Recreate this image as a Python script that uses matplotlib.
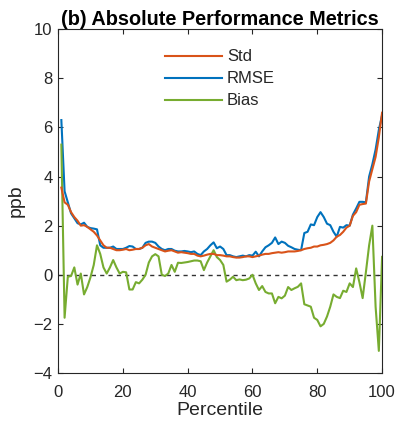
import matplotlib
matplotlib.use("Agg")
import matplotlib.pyplot as plt
import numpy as np

percentile = list(range(1, 101))

std_vals = [3.55, 2.95, 2.85, 2.55, 2.35, 2.2, 2.0, 2.02, 1.95, 1.85,
            1.75, 1.6, 1.4, 1.2, 1.1, 1.1, 1.05, 1.0, 1.0, 1.02,
            1.05, 1.0, 1.02, 1.05, 1.05, 1.1, 1.2, 1.25, 1.15, 1.1,
            1.05, 1.0, 0.95, 0.98, 1.0, 0.95, 0.9, 0.92, 0.9, 0.88,
            0.85, 0.85, 0.78, 0.75, 0.78, 0.82, 0.85, 0.85, 0.8, 0.8,
            0.78, 0.75, 0.75, 0.72, 0.7, 0.7, 0.72, 0.75, 0.75, 0.72,
            0.75, 0.78, 0.82, 0.85, 0.85, 0.88, 0.9, 0.92, 0.9, 0.92,
            0.95, 0.95, 0.95, 0.97, 1.0, 1.05, 1.08, 1.1, 1.15, 1.15,
            1.2, 1.22, 1.25, 1.3, 1.4, 1.55, 1.62, 1.75, 1.92, 2.0,
            2.4, 2.55, 2.85, 2.88, 2.9, 3.8, 4.3, 4.8, 5.6, 6.6]

rmse_vals = [6.3, 3.4, 2.95, 2.5, 2.3, 2.1, 2.05, 2.12, 1.95, 1.9,
             1.88, 1.85, 1.2, 1.1, 1.1, 1.1, 1.15, 1.05, 1.05, 1.05,
             1.1, 1.17, 1.15, 1.05, 1.05, 1.1, 1.3, 1.35, 1.35, 1.3,
             1.15, 1.05, 1.0, 1.05, 1.05, 0.98, 0.95, 0.95, 0.97, 0.95,
             0.92, 0.95, 0.85, 0.8, 0.95, 1.05, 1.2, 1.32, 1.08, 1.15,
             1.05, 0.8, 0.8, 0.75, 0.72, 0.75, 0.78, 0.75, 0.8, 0.78,
             0.94, 0.75, 0.95, 1.12, 1.2, 1.3, 1.52, 1.25, 1.35, 1.3,
             1.18, 1.12, 1.05, 1.02, 1.0, 1.7, 1.75, 2.05, 2.02, 2.35,
             2.55, 2.35, 2.08, 2.02, 1.75, 1.55, 1.95, 1.92, 2.02, 2.0,
             2.45, 2.7, 2.97, 2.97, 2.95, 4.0, 4.5, 5.1, 5.9, 6.5]

bias_vals = [5.3, -1.75, -0.08, -0.05, 0.3, -0.4, 0.05, -0.8, -0.5, -0.1,
             0.4, 1.2, 0.85, 0.3, 0.05, 0.3, 0.6, 0.3, 0.05, 0.12,
             0.1, -0.6, -0.6, -0.3, -0.35, -0.2, 0.0, 0.5, 0.75, 0.84,
             0.75, 0.0, -0.05, 0.05, 0.4, 0.12, 0.49, 0.48, 0.5, 0.52,
             0.55, 0.58, 0.58, 0.55, 0.19, 0.5, 0.75, 1.0, 0.72, 0.6,
             0.4, -0.28, -0.2, -0.08, -0.22, -0.19, -0.22, -0.2, -0.15, 0.0,
             -0.35, -0.62, -0.46, -0.7, -0.76, -0.76, -1.16, -0.9, -0.96, -0.85,
             -0.5, -0.62, -0.55, -0.49, -0.35, -1.2, -1.25, -1.3, -1.75, -1.84,
             -2.1, -2.0, -1.7, -1.3, -0.8, -0.9, -0.95, -0.65, -0.7, -0.35,
             -0.5, 0.26, -0.3, -0.95, 0.1, 1.2, 2.0, -1.3, -3.1, 0.73]

xticks = [0, 20, 40, 60, 80, 100]
yticks = [-4, -2, 0, 2, 4, 6, 8, 10]

plt.rcParams['font.family'] = ['Liberation Sans', 'DejaVu Sans']

fig = plt.figure(figsize=(3.98, 4.36), dpi=100)
ax = fig.add_axes([0.146, 0.1445, 0.814, 0.7885])

c_std = '#D95319'
c_rmse = '#0072BD'
c_bias = '#77AC30'
dark = '#262626'

ax.plot(percentile, std_vals, color=c_std, lw=1.5, label='Std', zorder=3)
ax.plot(percentile, rmse_vals, color=c_rmse, lw=1.5, label='RMSE', zorder=2)
ax.plot(percentile, bias_vals, color=c_bias, lw=1.5, label='Bias', zorder=2)
ax.plot([0, 100], [0, 0], color='#333333', lw=1.0, ls=(0, (3, 3)), zorder=1)

ax.set_xlim(0, 100)
ax.set_ylim(-4, 10)
ax.set_xticks(xticks)
ax.set_yticks(yticks)
ax.tick_params(direction='in', top=True, right=True, length=3.5, width=0.8,
               colors=dark, labelsize=12)
ax.tick_params(axis='x', pad=9)
ax.tick_params(axis='y', pad=4)
for s in ax.spines.values():
    s.set_color(dark)
    s.set_linewidth(0.8)

ax.set_xlabel('Percentile', fontsize=14, color=dark, labelpad=1)
ax.set_ylabel('ppb', fontsize=14, color=dark, labelpad=6)
ax.set_title('(b) Absolute Performance Metrics', fontsize=14.3,
             fontweight='bold', color='black', pad=3)

leg = ax.legend(loc='upper center', frameon=False, fontsize=12,
                handlelength=3.4, handletextpad=0.3, labelspacing=0.42,
                bbox_to_anchor=(0.5, 0.985))
for t in leg.get_texts():
    t.set_color(dark)

fig.savefig('out.png', dpi=100)
